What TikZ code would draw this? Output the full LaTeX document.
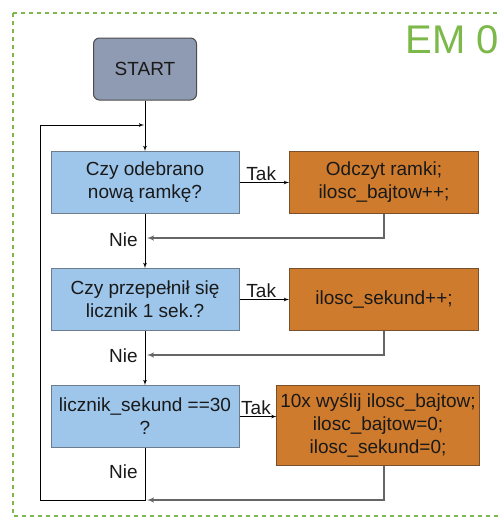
\documentclass[tikz,border=0pt]{standalone}
\usepackage{fontspec}
\setmainfont{Liberation Sans}
\usepackage{tikz}
\usetikzlibrary{arrows}
\usetikzlibrary{positioning}
\definecolor{startfill}{RGB}{143,155,178}
\definecolor{askfill}{RGB}{158,198,235}
\definecolor{dofill}{RGB}{207,123,45}
\definecolor{askline}{RGB}{110,125,142}
\definecolor{doline}{RGB}{120,80,45}
\definecolor{emgreen}{RGB}{124,184,74}
\tikzset{
  startbox/.style={draw=black!70,fill=startfill,rounded corners=6pt,
    minimum width=103pt,minimum height=62pt,line width=1pt},
  askbox/.style={draw=askline,fill=askfill,align=center,
    minimum width=188pt,minimum height=62pt,line width=1pt},
  dobox/.style={draw=doline,fill=dofill,align=center,
    minimum width=189pt,minimum height=62pt,line width=1pt},
  lbl/.style={inner sep=1pt,text=black!90},
  back/.style={->,draw=black!60,line width=1.4pt}
}

\begin{document}
\begin{tikzpicture}[x=1pt,y=-1pt,
      >=latex',
      on grid,
      font=\fontsize{19}{23}\selectfont,
      text=black!90,
      line width=0.8pt]

    \useasboundingbox (0,0) rectangle (500,525);
    \clip (0,0) rectangle (500,525);
    \draw[emgreen,line width=2pt,dash pattern=on 4pt off 4pt]
      (13,13) rectangle (520,516);
    \node[emgreen,anchor=base west,inner sep=0pt,
      font=\fontsize{40}{40}\selectfont]
      (Title) at (405,53) {EM 0};

    \node[startbox]
      (Start) at (145,69) {START};
    \node[askbox]
      (AskFrame) [below=113.5pt of Start] {Czy odebrano\\nową ramkę?};
    \node[askbox]
      (AskSec) [below=117pt of AskFrame] {Czy przepełnił się\\licznik 1 sek.?};
    \node[askbox]
      (AskThirty) [below=117pt of AskSec] {licznik\_sekund ==30\\?};
    \node[dobox]
      (ReadFrame) [right=239pt of AskFrame] {Odczyt ramki;\\ilosc\_bajtow++;};
    \node[dobox]
      (IncSec) [right=239pt of AskSec] {ilosc\_sekund++;};
    \node[dobox,minimum width=201pt,minimum height=80pt]
      (SendData) [below right=8.5pt and 233pt of AskThirty]
      {10x wyślij ilosc\_bajtow;\\ilosc\_bajtow=0;\\ilosc\_sekund=0;};

    % points on the main line
    \coordinate (LoopIn) at (145,125);
    \coordinate (JoinA) at (145,238);
    \coordinate (JoinB) at (145,355);
    \coordinate (JoinC) at (145,500);
    \coordinate (Corner) at (40,500);

    \draw[->] (Start) -- (AskFrame);
    \draw[->] (AskFrame) -- (AskSec);
    \draw[->] (AskSec) -- (AskThirty);
    \draw (AskThirty) -- (JoinC) -- (Corner);
    \draw[->,shorten >=1pt] (Corner) |- (LoopIn);

    \path[->]
      (AskFrame) edge node[lbl,above,xshift=-3pt] (TakA) {Tak} (ReadFrame)
      (AskSec) edge node[lbl,above,xshift=-3pt] (TakB) {Tak} (IncSec)
      (AskThirty) edge node[lbl,above,xshift=-2pt] (TakC) {Tak} (AskThirty -| SendData.west);

    \draw[back,shorten >=2pt] (ReadFrame) |- (JoinA);
    \draw[back,shorten >=2pt] (IncSec) |- (JoinB);
    \draw[back,shorten >=2pt] (SendData.south -| ReadFrame) |- (JoinC);

    \node[lbl,anchor=east] (NieA) at ([xshift=-6pt,yshift=-2pt]JoinA) {Nie};
    \node[lbl,anchor=east] (NieB) at ([xshift=-6pt,yshift=-1pt]JoinB) {Nie};
    \node[lbl,anchor=east] (NieC) at ([xshift=-6pt,yshift=28pt]JoinC) {Nie};

  \end{tikzpicture}
\end{document}
